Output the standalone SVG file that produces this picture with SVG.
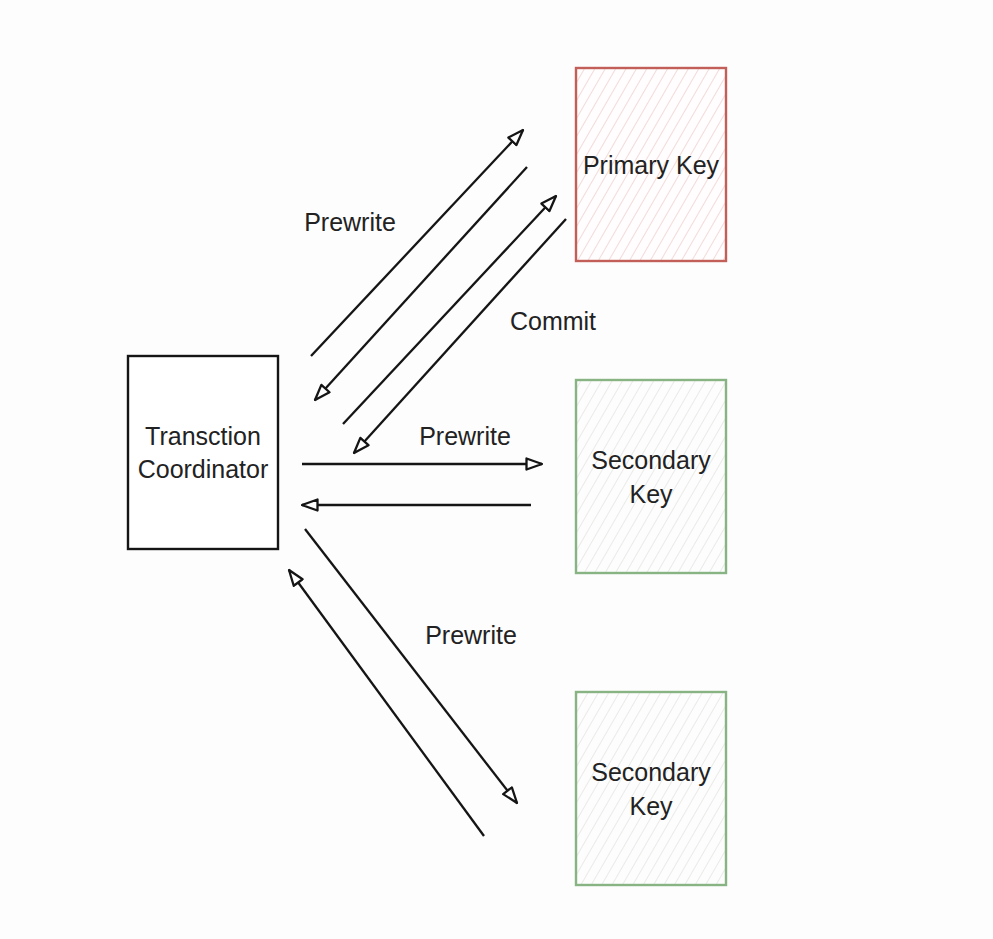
<svg xmlns="http://www.w3.org/2000/svg" width="993" height="939" viewBox="0 0 993 939">
<style>
text{font-family:"Liberation Sans",Arial,sans-serif;font-size:25px;fill:#222;text-anchor:middle}
.c{stroke:#151515;stroke-width:2.3;fill:none;marker-end:url(#ah)}
.box{stroke-width:2.4}
</style>
<defs>
<marker id="ah" viewBox="0 0 18 14" refX="17" refY="7" markerWidth="18" markerHeight="14" markerUnits="userSpaceOnUse" orient="auto">
<path d="M1.5,1.5 L17,7 L1.5,12.5 Z" fill="#fff" stroke="#151515" stroke-width="2.3" stroke-linejoin="round"/>
</marker>
<pattern id="hr" width="9" height="9" patternUnits="userSpaceOnUse" patternTransform="rotate(30)">
<rect width="9" height="9" fill="#fffdfd"/>
<line x1="0" y1="0" x2="0" y2="9" stroke="#ebc9c9" stroke-width="1.3"/>
</pattern>
<pattern id="hg" width="9" height="9" patternUnits="userSpaceOnUse" patternTransform="rotate(30)">
<rect width="9" height="9" fill="#fdfdfd"/>
<line x1="0" y1="0" x2="0" y2="9" stroke="#dfe2dd" stroke-width="1.3"/>
</pattern>
</defs>
<rect width="993" height="939" fill="#fdfdfd"/>
<g id="coordinator">
<rect class="box" x="128" y="356" width="150" height="193" fill="#fff" stroke="#151515"/>
<text x="203" y="445">Transction</text>
<text x="203" y="478">Coordinator</text>
</g>
<g id="primary">
<rect class="box" x="576" y="68" width="150" height="193" fill="url(#hr)" stroke="#c25f58"/>
<text x="651" y="174">Primary Key</text>
</g>
<g id="secondary1">
<rect class="box" x="576" y="380" width="150" height="193" fill="url(#hg)" stroke="#88b382"/>
<text x="651" y="469">Secondary</text>
<text x="651" y="503">Key</text>
</g>
<g id="secondary2">
<rect class="box" x="576" y="692" width="150" height="193" fill="url(#hg)" stroke="#88b382"/>
<text x="651" y="781">Secondary</text>
<text x="651" y="815">Key</text>
</g>
<g id="connectors">
<line class="c" x1="311" y1="356" x2="523" y2="130"/>
<line class="c" x1="527" y1="167" x2="315" y2="400"/>
<line class="c" x1="343" y1="424" x2="556" y2="196"/>
<line class="c" x1="566" y1="219" x2="354" y2="453"/>
<line class="c" x1="302" y1="464" x2="542" y2="464"/>
<line class="c" x1="531" y1="505" x2="302" y2="505"/>
<line class="c" x1="305" y1="529" x2="517" y2="803"/>
<line class="c" x1="484" y1="836" x2="289" y2="570"/>
</g>
<g id="labels">
<text x="350" y="231">Prewrite</text>
<text x="553" y="330">Commit</text>
<text x="465" y="445">Prewrite</text>
<text x="471" y="644">Prewrite</text>
</g>
</svg>
